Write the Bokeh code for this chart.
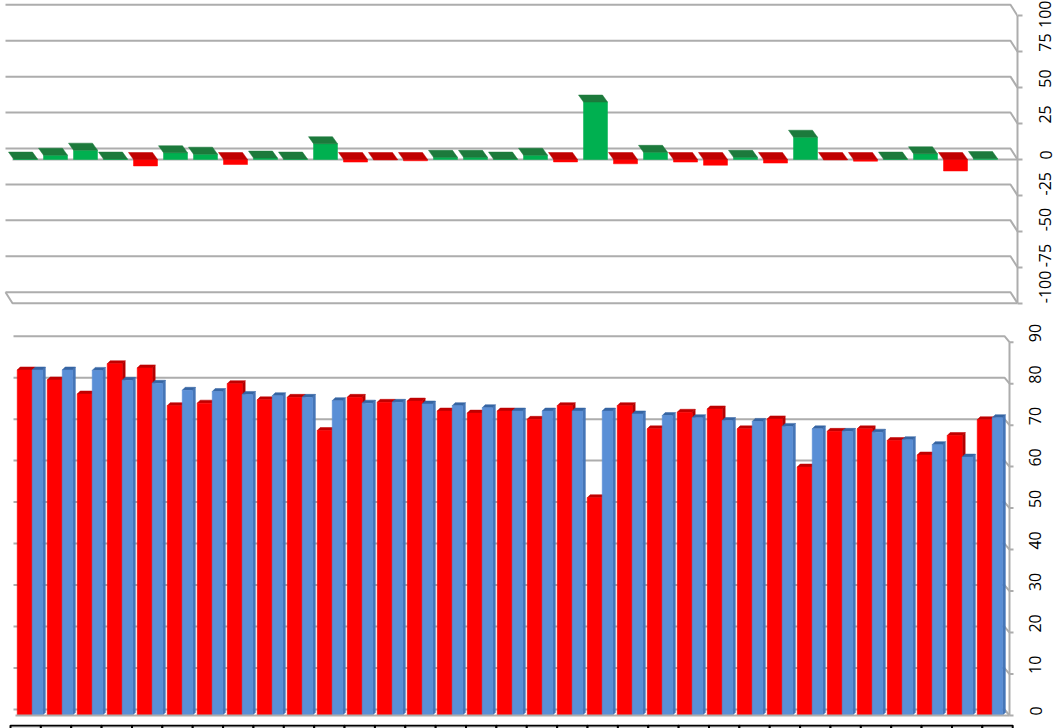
import math
from bokeh.plotting import figure
from bokeh.layouts import column
from bokeh.models import Range1d, FixedTicker, ColumnDataSource
from bokeh.embed import file_html
from bokeh.resources import INLINE

# ---------------- data ----------------
categories = list(range(1, 34))
red_values = [83.3, 80.9, 77.5, 84.8, 83.8, 74.7, 75.3, 80.0, 76.1, 76.7,
              68.7, 76.7, 75.5, 75.8, 73.4, 72.9, 73.4, 71.4, 74.7, 52.5,
              74.7, 69.1, 73.1, 73.9, 69.1, 71.5, 59.9, 68.5, 69.1, 66.3,
              62.8, 67.5, 71.3]
blue_values = [83.3, 83.3, 83.2, 80.8, 80.1, 78.4, 78.1, 77.4, 77.1, 76.7,
               75.9, 75.3, 75.5, 75.1, 74.7, 74.2, 73.4, 73.4, 73.4, 73.4,
               72.7, 72.3, 71.8, 71.1, 70.9, 69.7, 69.1, 68.5, 68.3, 66.5,
               65.3, 62.3, 71.8]
change_values = [0.3, 3.0, 6.5, 0.3, -4.5, 4.7, 3.7, -3.5, 1.0, 0.3,
                 11.0, -1.8, -0.3, -0.9, 1.5, 1.5, 0.3, 3.0, -1.7, 40.0,
                 -3.0, 5.0, -1.8, -4.0, 1.5, -2.5, 15.5, -0.3, -1.2, 0.3,
                 4.0, -8.0, 0.7]
top_ticks = [-100, -75, -50, -25, 0, 25, 50, 75, 100]
bottom_ticks = [0, 10, 20, 30, 40, 50, 60, 70, 80, 90]

# ---------------- styling ----------------
W = 1064
FRAME_W = 1017            # common frame width (the column aligns the frames)
GRID = "#ADADAD"
FONT = "Open Sans"
GREEN_FRONT, GREEN_TOP = "#00B050", "#1C7A3C"
RED_FRONT, RED_TOP, RED_SIDE = "#FF0000", "#C00000", "#B40000"
BLUE_FRONT, BLUE_TOP, BLUE_SIDE = "#5A8FD6", "#3665A3", "#4676B8"
TABLE_FILL = "#D9D9D9"
PX_X = 30.0


def style_axis(p, ticks, lo, hi, standoff, tick_out, show_line=True):
    ax = p.yaxis[0]
    ax.ticker = FixedTicker(ticks=ticks)
    ax.major_label_overrides = {t: str(t) for t in ticks}
    ax.bounds = (lo, hi)
    ax.axis_line_color = GRID if show_line else None
    ax.axis_line_width = 2
    ax.major_tick_line_color = GRID if show_line else None
    ax.major_tick_line_width = 2
    ax.major_tick_in = 0
    ax.major_tick_out = tick_out
    ax.minor_tick_line_color = None
    ax.major_label_orientation = math.pi / 2
    ax.major_label_text_font = FONT
    ax.major_label_text_font_size = "16px"
    ax.major_label_text_color = "#000000"
    ax.major_label_standoff = standoff


def base_fig(h, xr, yr, yaxis="right"):
    p = figure(width=W, height=h, x_range=xr, y_range=yr,
               output_backend="svg", toolbar_location=None,
               x_axis_location=None, y_axis_location=yaxis,
               min_border_left=0, min_border_right=W - FRAME_W,
               min_border_top=0, min_border_bottom=0,
               outline_line_color=None)
    p.grid.grid_line_color = None
    return p


# ---------------- top chart (change) ----------------
top_h = 322
top_px_y = 1.437
top_zero = 159.0                      # pixel row of the value 0 inside the figure
tx0 = 5.0 / PX_X
tx1 = tx0 + FRAME_W / PX_X
pt = base_fig(top_h, Range1d(tx0, tx1),
              Range1d(-(top_h - top_zero) / top_px_y, top_zero / top_px_y))
style_axis(pt, top_ticks, top_ticks[0], top_ticks[-1], 23, 5)

g_dy = 11 / top_px_y                  # depth of the back wall (value units)
g_start = tx0 + 5 / PX_X
g_back_end = tx0 + 1010 / PX_X
front_start = tx0 + 12 / PX_X
pt.multi_line(xs=[[g_start, g_back_end, tx1] for t in top_ticks],
              ys=[[t + g_dy, t + g_dy, t] for t in top_ticks],
              line_color=GRID, line_width=2)
pt.multi_line(xs=[[g_start, front_start, tx1], [front_start, tx1]],
              ys=[[top_ticks[0] + g_dy, top_ticks[0], top_ticks[0]], [0, 0]],
              line_color=GRID, line_width=2)

half = 0.4
bdx = -5 / PX_X
bdy = 7 / top_px_y
t_left = [c - half for c in categories]
t_right = [c + half for c in categories]
t_lo = [min(v, 0) for v in change_values]
t_hi = [max(v, 0) for v in change_values]
t_front = [GREEN_FRONT if v >= 0 else RED_FRONT for v in change_values]
t_topc = [GREEN_TOP if v >= 0 else RED_TOP for v in change_values]
top_src = ColumnDataSource(dict(
    left=t_left, right=t_right, bottom=t_lo, top=t_hi, color=t_front,
    xs=[[a, b, b + bdx, a + bdx] for a, b in zip(t_left, t_right)],
    ys=[[h, h, h + bdy, h + bdy] for h in t_hi],
    tcolor=t_topc))
pt.quad(left="left", right="right", bottom="bottom", top="top", source=top_src,
        fill_color="color", line_color="color", line_width=0.5)
pt.patches(xs="xs", ys="ys", source=top_src, fill_color="tcolor",
           line_color="tcolor", line_width=0.5)

# ---------------- bottom chart (values) ----------------
bot_h = 398
bot_px_y = 4.148
bot_zero = 393.0
bx0 = -1.7 / PX_X
bx1 = bx0 + FRAME_W / PX_X
pb = base_fig(bot_h, Range1d(bx0, bx1),
              Range1d(-(bot_h - bot_zero) / bot_px_y, bot_zero / bot_px_y))
# the value axis of this chart sits 8px left of the frame edge: native labels,
# axis line and ticks drawn at its own position
style_axis(pb, bottom_ticks, bottom_ticks[0], bottom_ticks[-1], 18, 0, show_line=False)

b_axis_x = bx0 + 1009 / PX_X
b_tick_x = bx0 + 1013 / PX_X
b_gdy = 6 / bot_px_y
b_gstart = bx0 + 13 / PX_X
b_gend = bx0 + 1004 / PX_X
pb.multi_line(xs=[[b_gstart, b_gend, b_axis_x] for t in bottom_ticks],
              ys=[[t + b_gdy, t + b_gdy, t] for t in bottom_ticks],
              line_color=GRID, line_width=2)
pb.segment(x0=[b_axis_x] * len(bottom_ticks), x1=[b_tick_x] * len(bottom_ticks),
           y0=bottom_ticks, y1=bottom_ticks, line_color=GRID, line_width=2)
pb.line(x=[b_axis_x, b_axis_x], y=[bottom_ticks[0], bottom_ticks[-1]],
        line_color=GRID, line_width=2)

ddx = 3 / PX_X
ddy = 3 / bot_px_y


def bars(p, lefts, rights, vals, front, topc, sidec):
    src = ColumnDataSource(dict(
        left=lefts, right=rights, top=vals,
        txs=[[a, b, b + ddx, a + ddx] for a, b in zip(lefts, rights)],
        tys=[[v, v, v + ddy, v + ddy] for v in vals],
        sxs=[[b, b + ddx, b + ddx, b] for b in rights],
        sys=[[0, ddy, v + ddy, v] for v in vals]))
    p.patches(xs="sxs", ys="sys", source=src, fill_color=sidec, line_color=sidec, line_width=0.5)
    p.patches(xs="txs", ys="tys", source=src, fill_color=topc, line_color=topc, line_width=0.5)
    p.quad(left="left", right="right", bottom=0, top="top", source=src,
           fill_color=front, line_color=front, line_width=0.5)


bars(pb, [c - 0.5 for c in categories], [float(c) for c in categories], red_values,
     RED_FRONT, RED_TOP, RED_SIDE)
bars(pb, [float(c) for c in categories], [c + 0.34 for c in categories], blue_values,
     BLUE_FRONT, BLUE_TOP, BLUE_SIDE)

pb.line(x=[bx0 + 15 / PX_X, b_axis_x], y=[0, 0], line_color=GRID, line_width=2)

# ---------------- data-table strip under the chart ----------------
cell_px = 30.37
strip_h = 728 - top_h - bot_h
ps = base_fig(strip_h, Range1d(-10 / cell_px, (FRAME_W - 10) / cell_px), Range1d(0, 1.15),
              yaxis=None)
ps.quad(left=[c - 1 for c in categories], right=categories, bottom=-1, top=1,
        fill_color=TABLE_FILL, line_color="#000000", line_width=2)

layout = column(pt, pb, ps, spacing=0)
open("out.html", "w").write(file_html(layout, INLINE))
